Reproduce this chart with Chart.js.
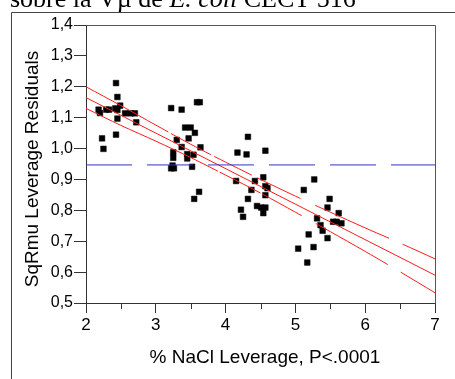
<!DOCTYPE html>
<html>
<head>
<meta charset="utf-8">
<script src="https://cdn.jsdelivr.net/npm/chart.js@4/dist/chart.umd.min.js"></script>
<style>
html,body{margin:0;padding:0;background:#fff;overflow:hidden;}
#wrap{position:relative;width:455px;height:379px;}
</style>
</head>
<body>
<div id="wrap"><canvas id="c" width="455" height="379"></canvas></div>
<script>
// ---- data ----
const pointsX = [2.43,2.45,2.18,2.20,2.29,2.33,2.42,2.49,2.45,2.45,2.56,2.64,2.70,2.72,2.23,2.25,2.43,
  3.22,3.37,3.42,3.50,3.56,3.30,3.47,3.37,3.64,3.25,3.25,3.45,3.45,3.54,3.24,3.22,3.26,3.52,3.59,3.63,3.62,3.55,
  4.32,4.17,4.30,4.57,4.15,4.42,4.54,4.57,4.60,4.37,4.57,4.32,4.45,4.51,4.57,4.22,4.54,4.25,
  5.27,5.12,5.49,5.46,5.62,5.31,5.54,5.59,5.66,5.36,5.39,5.19,5.46,5.04,5.26,5.17];
const pointsY = [1.212,1.167,1.126,1.115,1.126,1.126,1.130,1.139,1.125,1.097,1.114,1.114,1.114,1.085,1.033,0.999,1.045,
  1.131,1.126,1.068,1.068,1.051,1.028,1.033,1.005,1.004,0.988,0.970,0.982,0.968,0.980,0.945,0.936,0.936,0.941,1.150,1.150,0.860,0.837,
  1.038,0.987,0.981,0.993,0.895,0.895,0.907,0.878,0.872,0.866,0.849,0.837,0.814,0.809,0.809,0.802,0.791,0.779,
  0.900,0.866,0.837,0.809,0.791,0.774,0.763,0.763,0.758,0.752,0.734,0.722,0.710,0.676,0.681,0.631];
const fitX = [2, 7];
const fitY = [1.165, 0.590];
const bandX = [2,2.5,3,3.5,4,4.5,5,5.5,6,6.5,7];
const upperY = [1.200,1.139,1.076,1.014,0.956,0.900,0.846,0.794,0.743,0.694,0.643];
const lowerY = [1.130,1.075,1.024,0.971,0.914,0.856,0.794,0.731,0.667,0.601,0.533];
const meanX = [2, 7];
const meanY = [0.947, 0.947];
const xTicks = [2,3,4,5,6,7];
const yTicks = [0.5,0.6,0.7,0.8,0.9,1.0,1.1,1.2,1.3,1.4];
const xTitle = '% NaCl Leverage, P<.0001';
const yTitle = 'SqRmu Leverage Residuals';
const topTextParts = [['sobre la Vµ de ', false], ['E. coli', true], [' CECT 516', false]];

const zip = (xs, ys) => xs.map((x, i) => ({x, y: ys[i]}));

const decor = {
  id: 'decor',
  afterDraw(chart) {
    const ctx = chart.ctx;
    const a = chart.chartArea;
    const xs = chart.scales.x, ys = chart.scales.y;
    ctx.save();
    // outer frame
    ctx.strokeStyle = '#444';
    ctx.lineWidth = 1;
    ctx.beginPath();
    ctx.moveTo(11.5, 379); ctx.lineTo(11.5, 12.5); ctx.lineTo(455, 12.5);
    ctx.stroke();
    // plot frame top/right
    ctx.strokeStyle = '#555';
    ctx.beginPath();
    ctx.moveTo(Math.round(a.left) + 0.5, Math.round(a.top) + 0.5);
    ctx.lineTo(Math.round(a.right) + 0.5, Math.round(a.top) + 0.5);
    ctx.lineTo(Math.round(a.right) + 0.5, Math.round(a.bottom) + 0.5);
    ctx.stroke();
    // minor x ticks
    ctx.strokeStyle = '#333';
    ctx.beginPath();
    for (let i = 0; i < xTicks.length - 1; i++) {
      const px = Math.round(xs.getPixelForValue((xTicks[i] + xTicks[i + 1]) / 2)) + 0.5;
      ctx.moveTo(px, a.bottom); ctx.lineTo(px, a.bottom + 6);
    }
    ctx.stroke();
    // axis titles
    ctx.fillStyle = '#000';
    ctx.font = '19px "Liberation Sans", Arial, sans-serif';
    ctx.textAlign = 'center';
    ctx.textBaseline = 'middle';
    ctx.fillText(xTitle, 265, 358);
    ctx.translate(33, 169);
    ctx.rotate(-Math.PI / 2);
    ctx.fillText(yTitle, 0, 0);
    ctx.restore();
    // cut-off title text at top
    ctx.save();
    ctx.fillStyle = '#000';
    ctx.textBaseline = 'alphabetic';
    ctx.textAlign = 'left';
    let x = 10;
    for (const [t, it] of topTextParts) {
      ctx.font = (it ? 'italic ' : '') + '26px "Liberation Serif", "Times New Roman", serif';
      ctx.fillText(t, x, 6.5);
      x += ctx.measureText(t).width;
    }
    ctx.restore();
  }
};

new Chart(document.getElementById('c'), {
  data: {
    datasets: [
      { type: 'line', data: zip(meanX, meanY), borderColor: '#3232c8', borderWidth: 1,
        borderDash: [46, 15], pointRadius: 0, fill: false },
      { type: 'line', data: zip(bandX, upperY), borderColor: '#ff1a1a', borderWidth: 1,
        borderDash: [94, 3, 45, 4, 42, 6, 48, 16, 81, 15, 200], pointRadius: 0, fill: false, tension: 0.3 },
      { type: 'line', data: zip(bandX, lowerY), borderColor: '#ff1a1a', borderWidth: 1,
        borderDash: [146, 2, 46, 2, 45, 16, 83, 15, 200], pointRadius: 0, fill: false, tension: 0.3 },
      { type: 'line', data: zip(fitX, fitY), borderColor: '#ff1a1a', borderWidth: 1,
        pointRadius: 0, fill: false },
      { type: 'scatter', data: zip(pointsX, pointsY), pointStyle: 'rect', pointRadius: 4,
        backgroundColor: '#000', borderColor: '#000', borderWidth: 0.5 }
    ]
  },
  options: {
    responsive: false,
    animation: false,
    layout: { padding: { top: 25, right: 20, left: 0, bottom: 0 } },
    plugins: { legend: { display: false }, tooltip: { enabled: false } },
    scales: {
      x: {
        type: 'linear', min: 2, max: 7,
        afterFit: s => { s.height = 76; },
        afterBuildTicks: s => { s.ticks = xTicks.map(v => ({ value: v })); },
        ticks: { color: '#000', font: { size: 17, family: '"Liberation Sans", Arial, sans-serif' },
          padding: 2, maxRotation: 0, autoSkip: false, callback: v => String(v) },
        grid: { drawOnChartArea: false, tickLength: 10, color: '#333' },
        border: { display: true, color: '#333' }
      },
      y: {
        type: 'linear', min: 0.5, max: 1.4,
        afterFit: s => { s.width = 86; },
        afterBuildTicks: s => { s.ticks = yTicks.map(v => ({ value: v })); },
        ticks: { color: '#000', font: { size: 16, family: '"Liberation Sans", Arial, sans-serif' },
          padding: 1, autoSkip: false, callback: v => v.toFixed(1).replace('.', ',') },
        grid: { drawOnChartArea: false, tickLength: 12, color: '#333' },
        border: { display: true, color: '#333' }
      }
    }
  },
  plugins: [decor]
});
</script>
</body>
</html>
